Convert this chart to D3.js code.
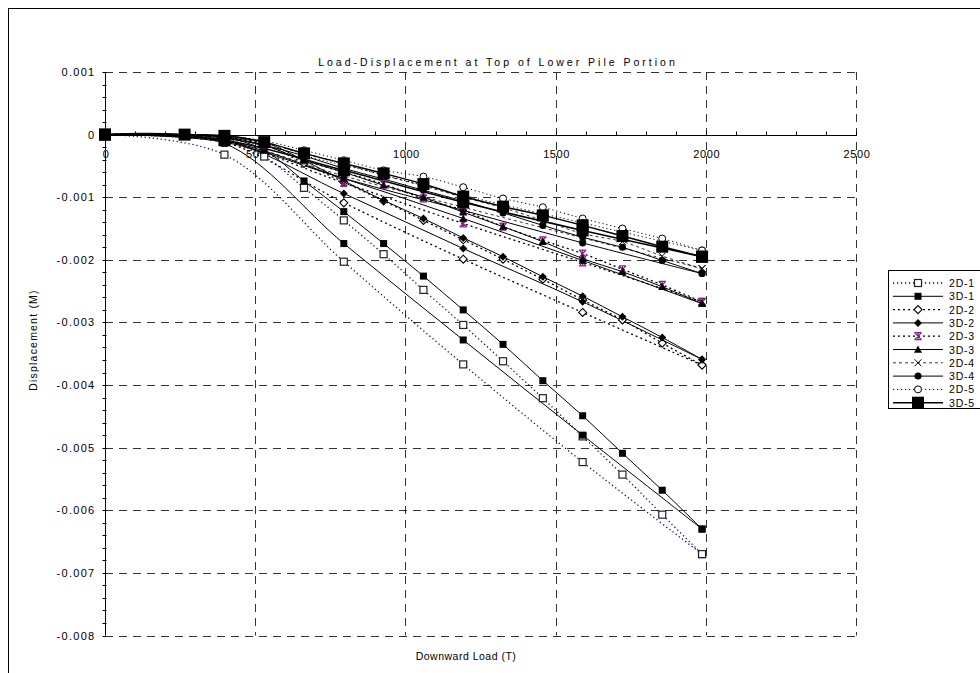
<!DOCTYPE html>
<html>
<head>
<meta charset="utf-8">
<script src="https://cdn.jsdelivr.net/npm/d3@7"></script>
<style>
  body { margin: 0; background: #fff; }
  text { font-family: "Liberation Sans", Arial, sans-serif; fill: #000; }
</style>
</head>
<body>
<svg id="canvas" width="980" height="673"></svg>
<script>
// loads (T) - dense runs and sparse runs
const loadsA = [0, 265, 397.5, 530, 662.5, 795, 927.5, 1060, 1192.5, 1325, 1457.5, 1590, 1722.5, 1855, 1987.5];
const loadsB = [0, 397.5, 795, 1192.5, 1590, 1987.5];

const xTicks = [0, 500, 1000, 1500, 2000, 2500];
const yTicks = [0.001, 0, -0.001, -0.002, -0.003, -0.004, -0.005, -0.006, -0.007, -0.008];
const seriesNames = ['2D-1', '3D-1', '2D-2', '3D-2', '2D-3', '3D-3', '2D-4', '3D-4', '2D-5', '3D-5'];

// displacements (M), dense runs
const disp2D1 = [0, -0.00001, -0.00009, -0.00035, -0.00085, -0.00137, -0.00191, -0.00248, -0.00304, -0.00362, -0.00421, -0.00482, -0.00543, -0.00607, -0.00670];
const disp3D1 = [0, -0.00001, -0.00004, -0.00025, -0.00074, -0.00123, -0.00174, -0.00226, -0.00280, -0.00335, -0.00393, -0.00449, -0.00509, -0.00568, -0.00630];
const disp2D2 = [0, 0, -0.00004, -0.00015, -0.00046, -0.00076, -0.00106, -0.00137, -0.00168, -0.00199, -0.00231, -0.00264, -0.00296, -0.00333, -0.00368];
const disp3D2 = [0, 0, -0.00002, -0.00012, -0.00041, -0.00074, -0.00105, -0.00134, -0.00165, -0.00195, -0.00227, -0.00258, -0.00291, -0.00324, -0.00359];
const disp2D3 = [0, 0, -0.00004, -0.00017, -0.00041, -0.00060, -0.00079, -0.00102, -0.00121, -0.00147, -0.00169, -0.00190, -0.00215, -0.00240, -0.00267];
const disp3D3 = [0, 0, -0.00004, -0.00017, -0.00041, -0.00060, -0.00081, -0.00100, -0.00124, -0.00147, -0.00171, -0.00198, -0.00219, -0.00243, -0.00270];
const disp2D4 = [0, 0, -0.00004, -0.00014, -0.00030, -0.00047, -0.00065, -0.00082, -0.00100, -0.00117, -0.00137, -0.00158, -0.00171, -0.00194, -0.00214];
const disp3D4 = [0, 0, -0.00006, -0.00017, -0.00034, -0.00054, -0.00071, -0.00089, -0.00106, -0.00125, -0.00145, -0.00164, -0.00180, -0.00201, -0.00222];
const disp2D5 = [0, 0, -0.00002, -0.00010, -0.00025, -0.00041, -0.00057, -0.00067, -0.00084, -0.00102, -0.00116, -0.00134, -0.00150, -0.00166, -0.00185];
const disp3D5 = [0, 0, -0.00002, -0.00012, -0.00030, -0.00046, -0.00062, -0.00079, -0.00099, -0.00115, -0.00129, -0.00145, -0.00162, -0.00179, -0.00195];

// sparse runs
const disp2D1b = [0, -0.00032, -0.00203, -0.00367, -0.00523, -0.00670];
const disp3D1b = [0, -0.00014, -0.00174, -0.00328, -0.00480, -0.00630];
const disp2D2b = [0, -0.00012, -0.00109, -0.00199, -0.00284, -0.00368];
const disp3D2b = [0, -0.00009, -0.00094, -0.00182, -0.00267, -0.00359];
const disp2D3b = [0, -0.00012, -0.00077, -0.00142, -0.00204, -0.00267];
const disp3D3b = [0, -0.00010, -0.00070, -0.00134, -0.00201, -0.00270];
const disp2D4b = [0, -0.00010, -0.00066, -0.00116, -0.00165, -0.00214];
const disp3D4b = [0, -0.00012, -0.00070, -0.00121, -0.00173, -0.00222];
const disp2D5b = [0, -0.00007, -0.00049, -0.00097, -0.00141, -0.00185];
const disp3D5b = [0, -0.00009, -0.00057, -0.00108, -0.00153, -0.00195];

const styles = {
    '2D-1': {stroke: '#000080', dash: '1.2,2.8', width: 1.3, marker: 'square-open', size: 7},
    '3D-1': {stroke: '#000', dash: null, width: 1, marker: 'square', size: 7},
    '2D-2': {stroke: '#000', dash: '2,3', width: 1.3, marker: 'diamond-open', size: 8},
    '3D-2': {stroke: '#000', dash: null, width: 1, marker: 'diamond', size: 8},
    '2D-3': {stroke: '#000', dash: '2,3', width: 1.3, marker: 'star', size: 7},
    '3D-3': {stroke: '#000', dash: null, width: 1, marker: 'triangle', size: 8},
    '2D-4': {stroke: '#000', dash: '3,3', width: 0.8, marker: 'x', size: 7},
    '3D-4': {stroke: '#000', dash: null, width: 1, marker: 'circle', size: 7},
    '2D-5': {stroke: '#000', dash: '1.2,2.8', width: 1, marker: 'circle-open', size: 7},
    '3D-5': {stroke: '#000', dash: null, width: 1.5, marker: 'square', size: 12}
};

const series = [
    {name: '2D-1', x: loadsA, y: disp2D1}, {name: '3D-1', x: loadsA, y: disp3D1},
    {name: '2D-2', x: loadsA, y: disp2D2}, {name: '3D-2', x: loadsA, y: disp3D2},
    {name: '2D-3', x: loadsA, y: disp2D3}, {name: '3D-3', x: loadsA, y: disp3D3},
    {name: '2D-4', x: loadsA, y: disp2D4}, {name: '3D-4', x: loadsA, y: disp3D4},
    {name: '2D-5', x: loadsA, y: disp2D5}, {name: '3D-5', x: loadsA, y: disp3D5},
    {name: '2D-1', x: loadsB, y: disp2D1b}, {name: '3D-1', x: loadsB, y: disp3D1b},
    {name: '2D-2', x: loadsB, y: disp2D2b}, {name: '3D-2', x: loadsB, y: disp3D2b},
    {name: '2D-3', x: loadsB, y: disp2D3b}, {name: '3D-3', x: loadsB, y: disp3D3b},
    {name: '2D-4', x: loadsB, y: disp2D4b}, {name: '3D-4', x: loadsB, y: disp3D4b},
    {name: '2D-5', x: loadsB, y: disp2D5b}, {name: '3D-5', x: loadsB, y: disp3D5b}
];

let canvas = d3.select('#canvas');

const x = d3.scaleLinear().domain([0, 2500]).range([105, 856]);
const y = d3.scaleLinear().domain([-0.008, 0.001]).range([635.5, 72]);

// outer frame
canvas.append('rect')
      .attr('x', 8.5).attr('y', 8.5)
      .attr('width', 1000).attr('height', 700)
      .attr('fill', 'none').attr('stroke', '#000');

canvas.append('text')
      .attr('x', 498).attr('y', 66)
      .attr('text-anchor', 'middle')
      .style('font-size', '10.5px')
      .style('letter-spacing', '3px')
      .text('Load-Displacement at Top of Lower Pile Portion');

// grid
canvas.append('g').selectAll('line')
      .data(yTicks.filter(d => d !== 0))
      .enter()
      .append('line')
      .attr('x1', x(0)).attr('x2', x(2500))
      .attr('y1', d => Math.round(y(d)) + 0.5).attr('y2', d => Math.round(y(d)) + 0.5)
      .attr('stroke', '#333')
      .attr('stroke-dasharray', '8,6');

canvas.append('g').selectAll('line')
      .data(xTicks.filter(d => d !== 0))
      .enter()
      .append('line')
      .attr('x1', d => Math.round(x(d)) + 0.5).attr('x2', d => Math.round(x(d)) + 0.5)
      .attr('y1', y(0.001)).attr('y2', y(-0.008))
      .attr('stroke', '#333')
      .attr('stroke-dasharray', '8,6');

// y axis
let yAxis = canvas.append('g').attr('transform', 'translate(' + (x(0) + 0.5) + ',0)');
yAxis.append('line').attr('y1', y(0.001)).attr('y2', y(-0.008)).attr('stroke', '#000');
yAxis.selectAll('.minor')
      .data(d3.range(-40, 6).map(i => i * 0.0002))
      .enter()
      .append('line')
      .attr('x1', -3).attr('x2', 1)
      .attr('y1', d => Math.round(y(d)) + 0.5).attr('y2', d => Math.round(y(d)) + 0.5)
      .attr('stroke', '#000');
yAxis.selectAll('text')
      .data(yTicks)
      .enter()
      .append('text')
      .attr('x', -10)
      .attr('y', d => y(d) + 4)
      .attr('text-anchor', 'end')
      .style('font-size', '11px')
      .style('letter-spacing', '1.3px')
      .text(d => d === 0 ? '0' : d3.format('.3f')(d).replace('\u2212', '-'));

// x axis along zero
let xAxis = canvas.append('g').attr('transform', 'translate(0,' + (Math.round(y(0)) + 0.5) + ')');
xAxis.append('line').attr('x1', x(0)).attr('x2', x(2500)).attr('stroke', '#000');
xAxis.selectAll('.minor')
      .data(d3.range(0, 26).map(i => i * 100))
      .enter()
      .append('line')
      .attr('x1', d => Math.round(x(d)) + 0.5).attr('x2', d => Math.round(x(d)) + 0.5)
      .attr('y1', -4).attr('y2', 0)
      .attr('stroke', '#000');
xAxis.selectAll('text')
      .data(xTicks)
      .enter()
      .append('text')
      .attr('x', d => x(d) + 1)
      .attr('y', 22)
      .attr('text-anchor', 'middle')
      .style('font-size', '11px')
      .style('letter-spacing', '0.6px')
      .text(d => d);

canvas.append('text')
      .attr('x', 466).attr('y', 660)
      .attr('text-anchor', 'middle')
      .style('font-size', '10.5px')
      .style('letter-spacing', '0.5px')
      .text('Downward Load (T)');

canvas.append('text')
      .attr('transform', 'translate(37,340) rotate(-90)')
      .attr('text-anchor', 'middle')
      .style('font-size', '10.5px')
      .style('letter-spacing', '1.2px')
      .text('Displacement (M)');

const drawMarker = (g, type, s) => {
    let h = s / 2;
    if (type === 'square' || type === 'square-open') {
        g.append('rect').attr('x', -h).attr('y', -h).attr('width', s).attr('height', s)
         .attr('fill', type === 'square' ? '#000' : '#fff')
         .attr('stroke', '#222').attr('stroke-width', type === 'square' ? 0 : 1.2);
    } else if (type === 'diamond' || type === 'diamond-open') {
        g.append('path').attr('d', `M0,${-h}L${h},0L0,${h}L${-h},0Z`)
         .attr('fill', type === 'diamond' ? '#000' : '#fff')
         .attr('stroke', '#000').attr('stroke-width', type === 'diamond' ? 0 : 1.1);
    } else if (type === 'circle' || type === 'circle-open') {
        g.append('circle').attr('r', h)
         .attr('fill', type === 'circle' ? '#000' : '#fff')
         .attr('stroke', '#000').attr('stroke-width', type === 'circle' ? 0 : 1);
    } else if (type === 'triangle') {
        g.append('path').attr('d', `M0,${-h}L${h},${h * 0.8}L${-h},${h * 0.8}Z`).attr('fill', '#000');
    } else if (type === 'x') {
        g.append('path').attr('d', `M${-h},${-h}L${h},${h}M${-h},${h}L${h},${-h}`)
         .attr('stroke', '#000').attr('stroke-width', 1);
    } else if (type === 'star') {
        g.append('path').attr('d', `M${-h},${-h}L${h},${h}M${-h},${h}L${h},${-h}M${-h},${-h}L${h},${-h}M${-h},${h}L${h},${h}M0,${-h}L0,${h}`)
         .attr('stroke', '#8B1A8B').attr('stroke-width', 1.2);
    }
};

const line = d3.line()
    .x(d => x(d[0]))
    .y(d => y(d[1]))
    .curve(d3.curveCatmullRom.alpha(0.5));

let plot = canvas.append('g');

plot.selectAll('path.series')
    .data(series)
    .enter()
    .append('path')
    .attr('class', 'series')
    .attr('d', s => line(s.x.map((v, i) => [v, s.y[i]])))
    .attr('fill', 'none')
    .attr('stroke', s => styles[s.name].stroke)
    .attr('stroke-width', s => styles[s.name].width)
    .attr('stroke-dasharray', s => styles[s.name].dash);

// markers, big 3D-5 squares last so they sit on top
const order = ['2D-1', '3D-1', '2D-2', '3D-2', '2D-4', '3D-4', '2D-5', '2D-3', '3D-3', '3D-5'];
order.forEach(name => {
    series.filter(s => s.name === name).forEach(s => {
        s.x.forEach((v, i) => {
            let g = plot.append('g').attr('transform', 'translate(' + x(v) + ',' + y(s.y[i]) + ')');
            drawMarker(g, styles[name].marker, styles[name].size);
        });
    });
});

// legend
let legend = canvas.append('g').attr('transform', 'translate(888,270)');
legend.append('rect')
      .attr('x', 0.5).attr('y', 0.5).attr('width', 120).attr('height', 138)
      .attr('fill', '#fff').attr('stroke', '#000');

let items = legend.selectAll('g.item')
      .data(seriesNames)
      .enter()
      .append('g')
      .attr('class', 'item')
      .attr('transform', (d, i) => 'translate(0,' + (13 + i * 13.3) + ')');

items.append('line')
     .attr('x1', 5).attr('x2', 55)
     .attr('stroke', d => styles[d].stroke)
     .attr('stroke-width', d => styles[d].width)
     .attr('stroke-dasharray', d => styles[d].dash);

items.each(function(d) {
    let g = d3.select(this).append('g').attr('transform', 'translate(30,0)');
    drawMarker(g, styles[d].marker, styles[d].size);
});

items.append('text')
     .attr('x', 61).attr('y', 4)
     .style('font-size', '10.5px')
     .style('letter-spacing', '0.8px')
     .text(d => d);
</script>
</body>
</html>
